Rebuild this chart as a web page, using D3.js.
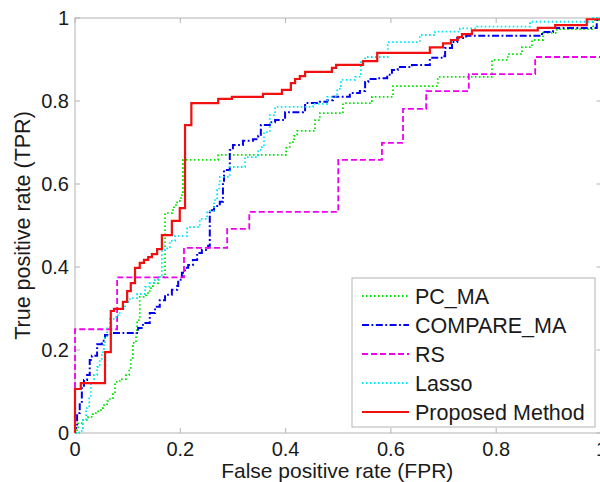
<!DOCTYPE html>
<html>
<head>
<meta charset="utf-8">
<script src="https://cdn.jsdelivr.net/npm/d3@7/dist/d3.min.js"></script>
<style>
  html, body { margin: 0; padding: 0; background: #fff; }
  svg { display: block; }
  text { font-family: "Liberation Sans", Arial, Helvetica, sans-serif; fill: #1a1a1a; }
</style>
</head>
<body>
<svg id="chart" width="600" height="482"></svg>
<script>
// ROC curves: each series is a list of [FPR, TPR] staircase corners.
const seriesNames = ["PC_MA", "COMPARE_MA", "RS", "Lasso", "Proposed Method"];

const pcMa = [
  [0,0],[0.004,0.007],[0.006,0.024],[0.015,0.031],[0.025,0.039],[0.034,0.048],[0.044,0.055],
  [0.053,0.067],[0.061,0.077],[0.066,0.084],[0.072,0.096],[0.076,0.123],[0.085,0.130],
  [0.097,0.140],[0.103,0.157],[0.106,0.181],[0.110,0.217],[0.116,0.248],[0.118,0.272],
  [0.123,0.328],[0.135,0.337],[0.142,0.349],[0.148,0.361],[0.158,0.376],[0.171,0.530],
  [0.184,0.537],[0.188,0.549],[0.194,0.559],[0.201,0.573],[0.205,0.658],[0.272,0.670],
  [0.401,0.687],[0.408,0.701],[0.416,0.716],[0.422,0.728],[0.456,0.754],[0.465,0.771],
  [0.509,0.795],[0.564,0.810],[0.604,0.836],[0.689,0.858],[0.792,0.899],[0.822,0.913],
  [0.849,0.930],[0.868,0.947],[0.889,0.964],[0.915,0.973],[0.984,0.995],[1,0.995]
];

const compareMa = [
  [0,0],[0,0.012],[0.004,0.048],[0.009,0.072],[0.013,0.111],[0.017,0.128],[0.023,0.140],
  [0.028,0.176],[0.032,0.186],[0.042,0.214],[0.051,0.222],[0.057,0.236],[0.068,0.241],
  [0.120,0.253],[0.129,0.265],[0.142,0.289],[0.152,0.304],[0.161,0.320],[0.171,0.333],
  [0.184,0.345],[0.194,0.354],[0.196,0.369],[0.203,0.386],[0.209,0.398],[0.215,0.405],
  [0.224,0.417],[0.232,0.434],[0.241,0.441],[0.253,0.451],[0.256,0.537],[0.264,0.547],
  [0.275,0.557],[0.281,0.602],[0.283,0.634],[0.294,0.682],[0.300,0.694],[0.319,0.704],
  [0.338,0.708],[0.348,0.716],[0.353,0.742],[0.370,0.749],[0.380,0.754],[0.399,0.773],
  [0.433,0.778],[0.437,0.795],[0.465,0.798],[0.479,0.802],[0.490,0.810],[0.522,0.819],
  [0.541,0.824],[0.551,0.846],[0.557,0.853],[0.575,0.855],[0.593,0.863],[0.602,0.875],
  [0.613,0.882],[0.640,0.887],[0.674,0.904],[0.699,0.908],[0.703,0.928],[0.716,0.942],
  [0.726,0.952],[0.743,0.957],[0.887,0.966],[0.908,0.976],[0.991,0.995],[1,0.995]
];

const rs = [
  [0,0],[0,0.25],[0.08,0.375],[0.207,0.446],[0.289,0.492],[0.331,0.533],[0.5,0.658],
  [0.583,0.699],[0.623,0.781],[0.667,0.824],[0.748,0.865],[0.874,0.906],[1,0.906]
];

const lasso = [
  [0,0],[0.008,0.005],[0.015,0.031],[0.021,0.060],[0.027,0.087],[0.030,0.120],[0.036,0.140],
  [0.042,0.159],[0.047,0.176],[0.051,0.195],[0.055,0.212],[0.057,0.229],[0.061,0.255],
  [0.066,0.275],[0.078,0.284],[0.085,0.299],[0.095,0.316],[0.104,0.325],[0.118,0.335],
  [0.133,0.352],[0.141,0.361],[0.152,0.369],[0.160,0.376],[0.165,0.441],[0.175,0.448],
  [0.180,0.463],[0.190,0.475],[0.213,0.496],[0.237,0.516],[0.251,0.535],[0.264,0.561],
  [0.270,0.586],[0.274,0.605],[0.275,0.617],[0.294,0.641],[0.323,0.665],[0.348,0.682],
  [0.355,0.689],[0.359,0.725],[0.370,0.766],[0.380,0.786],[0.452,0.793],[0.479,0.810],
  [0.498,0.829],[0.505,0.851],[0.532,0.858],[0.543,0.896],[0.551,0.906],[0.594,0.942],
  [0.655,0.959],[0.684,0.967],[0.731,0.975],[0.764,0.979],[0.864,0.991],[0.984,1],[1,1]
];

const proposed = [
  [0,0],[0,0.106],[0.011,0.120],[0.057,0.195],[0.068,0.294],[0.074,0.299],[0.091,0.316],
  [0.099,0.342],[0.106,0.361],[0.114,0.398],[0.123,0.410],[0.131,0.417],[0.139,0.424],
  [0.146,0.431],[0.156,0.443],[0.165,0.477],[0.184,0.511],[0.199,0.542],[0.209,0.742],
  [0.221,0.795],[0.272,0.805],[0.298,0.810],[0.357,0.817],[0.393,0.827],[0.410,0.843],
  [0.418,0.853],[0.427,0.860],[0.437,0.870],[0.488,0.880],[0.496,0.887],[0.547,0.896],
  [0.574,0.916],[0.674,0.929],[0.699,0.939],[0.714,0.947],[0.727,0.954],[0.735,0.961],
  [0.754,0.970],[0.879,0.976],[0.912,0.983],[0.972,0.997],[1,0.997]
];

const xTicks = [0, 0.2, 0.4, 0.6, 0.8, 1];
const yTicks = [0, 0.2, 0.4, 0.6, 0.8, 1];
const xTickLabels = ["0", "0.2", "0.4", "0.6", "0.8", "1"];
const yTickLabels = ["0", "0.2", "0.4", "0.6", "0.8", "1"];
const xTitle = "False positive rate (FPR)";
const yTitle = "True positive rate (TPR)";

const styles = [
  { data: pcMa,      color: "#00e600", dash: "1.6,2.4", width: 1.8 },
  { data: compareMa, color: "#0000f0", dash: "7,2.5,1.8,2.5", width: 2 },
  { data: rs,        color: "#f000f0", dash: "6,3", width: 1.8 },
  { data: lasso,     color: "#00e8f0", dash: "1.6,2.4", width: 1.8 },
  { data: proposed,  color: "#f01010", dash: null, width: 2.2 }
];

const svg = d3.select("#chart");
const plot = { left: 75, right: 601.5, top: 18, bottom: 433 };

const x = d3.scaleLinear().domain([0, 1]).range([plot.left, plot.right]);
const y = d3.scaleLinear().domain([0, 1]).range([plot.bottom, plot.top]);

const axisColor = "#b4b4b4";
const tickLen = 5;

// Axes box
svg.append("rect")
  .attr("x", plot.left).attr("y", plot.top)
  .attr("width", plot.right - plot.left).attr("height", plot.bottom - plot.top)
  .attr("fill", "none").attr("stroke", axisColor).attr("stroke-width", 1);

// Inward ticks on all four sides
const tickG = svg.append("g").attr("stroke", axisColor).attr("stroke-width", 1);
xTicks.forEach(v => {
  tickG.append("line").attr("x1", x(v)).attr("x2", x(v)).attr("y1", plot.bottom).attr("y2", plot.bottom - tickLen);
  tickG.append("line").attr("x1", x(v)).attr("x2", x(v)).attr("y1", plot.top).attr("y2", plot.top + tickLen);
});
yTicks.forEach(v => {
  tickG.append("line").attr("x1", plot.left).attr("x2", plot.left + tickLen).attr("y1", y(v)).attr("y2", y(v));
  tickG.append("line").attr("x1", plot.right).attr("x2", plot.right - tickLen).attr("y1", y(v)).attr("y2", y(v));
});

// Tick labels
svg.append("g").selectAll("text").data(xTicks).join("text")
  .attr("x", d => x(d)).attr("y", 456)
  .attr("text-anchor", "middle").attr("font-size", 20)
  .text((d, i) => xTickLabels[i]);

svg.append("g").selectAll("text").data(yTicks).join("text")
  .attr("x", 69).attr("y", d => y(d)).attr("dy", "0.36em")
  .attr("text-anchor", "end").attr("font-size", 20)
  .text((d, i) => yTickLabels[i]);

// Axis titles
svg.append("text")
  .attr("x", (plot.left + plot.right) / 2 - 1).attr("y", 478)
  .attr("text-anchor", "middle").attr("font-size", 21)
  .text(xTitle);

svg.append("text")
  .attr("transform", `translate(30, ${(plot.top + plot.bottom) / 2}) rotate(-90)`)
  .attr("text-anchor", "middle").attr("font-size", 21.5)
  .text(yTitle);

// Curves
const line = d3.line()
  .x(d => x(d[0])).y(d => y(d[1]))
  .curve(d3.curveStepAfter);

const curves = svg.append("g");
styles.forEach(s => {
  curves.append("path")
    .attr("d", line(s.data))
    .attr("fill", "none")
    .attr("stroke", s.color)
    .attr("stroke-width", s.width)
    .attr("stroke-dasharray", s.dash)
    .attr("stroke-linejoin", "miter");
});

// Legend
const legend = { x: 352, y: 278, w: 243, h: 149, rowY0: 296, rowStep: 29 };
const lg = svg.append("g");
lg.append("rect")
  .attr("x", legend.x).attr("y", legend.y).attr("width", legend.w).attr("height", legend.h)
  .attr("fill", "#fff").attr("stroke", axisColor).attr("stroke-width", 1);

seriesNames.forEach((name, i) => {
  const cy = legend.rowY0 + i * legend.rowStep;
  const s = styles[i];
  lg.append("line")
    .attr("x1", 362).attr("x2", 409).attr("y1", cy).attr("y2", cy)
    .attr("stroke", s.color).attr("stroke-width", s.width)
    .attr("stroke-dasharray", s.dash);
  lg.append("text")
    .attr("x", 415).attr("y", cy).attr("dy", "0.36em")
    .attr("font-size", 21.5)
    .text(name);
});
</script>
</body>
</html>
